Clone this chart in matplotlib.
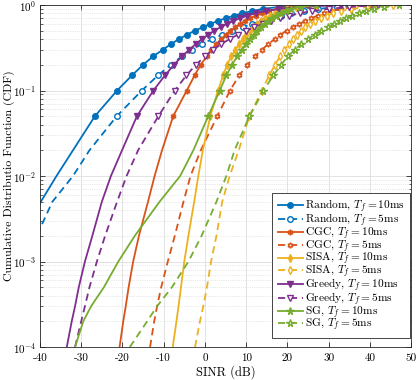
import matplotlib
matplotlib.use('Agg')
import matplotlib.pyplot as plt
from matplotlib.ticker import LogLocator, NullFormatter

plt.rcParams['font.family'] = 'serif'
plt.rcParams['font.serif'] = ['cmr10', 'DejaVu Serif']
plt.rcParams['mathtext.fontset'] = 'cm'
plt.rcParams['axes.formatter.use_mathtext'] = True

# CDF levels at which the SINR values were read (markers from 0.05 upwards)
cdf = [1e-4, 2e-4, 3e-4, 5e-4, 1e-3, 2e-3, 5e-3, 1e-2, 2e-2,
       0.05, 0.10, 0.15, 0.20, 0.25, 0.30, 0.35, 0.40, 0.45, 0.50,
       0.55, 0.60, 0.65, 0.70, 0.75, 0.80, 0.85, 0.90, 0.95, 1.00]
first_marker = 9

# SINR (dB) at each CDF level
random_10 = [-60, -56, -53.5, -50.5, -47, -43.5, -39.8, -36, -32, -26.7, -21.3, -17.7, -15, -12.6,
             -10.2, -8.2, -6.3, -4.3, -2.5, -0.5, 1.3, 3.1, 5, 7, 9, 11.5, 14, 18, 25]
random_5 = [-56, -52, -49.5, -46.5, -43.5, -40.8, -37, -32, -28, -21.4, -15.3, -11.4, -8.3, -5.6,
            -3.1, -0.7, 1.8, 4.2, 6.6, 9.2, 11.5, 13.8, 16, 18.5, 21, 24, 27.5, 32, 40]
cgc_10 = [-20.7, -19.8, -19.2, -18.5, -17.4, -16, -13.8, -12.2, -10.4, -7.7, -4.4, -2.5, -1, 0.4,
          1.6, 2.8, 4, 5, 6.2, 7.3, 8.5, 9.7, 11, 12.3, 13.8, 15.5, 17.5, 20.5, 25]
cgc_5 = [-13.3, -12.3, -11.6, -10.6, -9, -7.3, -5.2, -3.5, -1, 3, 6.1, 8.3, 10.3, 12.1,
         13.8, 15.4, 16.9, 18.3, 19.8, 21.3, 22.8, 24.3, 25.8, 27.4, 29, 30.8, 33, 36, 40]
sisa_10 = [-7.8, -6.9, -6.4, -5.8, -5, -4, -2.6, -1.6, -0.5, 1.3, 3.2, 4.4, 5.4, 6.4,
           7.4, 8.3, 9.2, 10, 10.9, 11.7, 12.7, 13.7, 14.7, 15.8, 17, 18.4, 20, 22.2, 27]
sisa_5 = [-2.4, -1.2, -0.4, 0.5, 1.5, 2.8, 4.2, 6, 8.2, 10.8, 13.8, 15.6, 17, 18.2,
          19.3, 20.4, 21.4, 22.4, 23.4, 24.4, 25.6, 26.8, 28.1, 29.5, 31, 33, 35.5, 39.4, 45.7]
greedy_10 = [-33.5, -32.3, -31.5, -30.6, -29.1, -27.3, -25, -22.8, -20.1, -16.5, -12.5, -9.7, -7.5, -5.6,
             -3.8, -2.2, -0.7, 0.8, 2.3, 3.8, 5.3, 6.9, 8.5, 10.3, 12.3, 14.8, 18, 23, 33]
greedy_5 = [-31.5, -30, -29.1, -28, -26.2, -24.2, -21.3, -19, -16.2, -11.3, -7.3, -4.5, -2.2, 0,
            2, 4, 6, 8, 10, 12, 14, 16, 18.2, 20.5, 23, 26, 30, 35, 42]
sg_10 = [-31.5, -29.5, -27.6, -24.5, -21, -17, -11, -6, -2.8, 0.8, 3.6, 5.2, 6.6, 7.8,
         8.9, 9.9, 10.9, 11.8, 12.7, 13.6, 14.5, 15.4, 16.3, 17.3, 18.4, 19.6, 21, 23, 27]
sg_5 = [-18.2, -14, -11.6, -8, -4, -0.8, 2.8, 5.2, 7.2, 10.8, 14.2, 16.6, 18.5, 20.1,
        21.8, 23.4, 25, 26.6, 28.2, 29.8, 31.3, 32.8, 34.2, 35.7, 37.3, 39, 41, 43.5, 47]

xticks = [-40, -30, -20, -10, 0, 10, 20, 30, 40, 50]

blue = '#0072BD'
orange = '#D95319'
yellow = '#EDB120'
purple = '#7E2F8E'
green = '#77AC30'
hexagram = (6, 1, 0)

series = [
    (random_10, blue, 'o', '-', True, r'Random, $T_f = 10$ms'),
    (random_5, blue, 'o', '--', False, r'Random, $T_f = 5$ms'),
    (cgc_10, orange, hexagram, '-', True, r'CGC, $T_f = 10$ms'),
    (cgc_5, orange, hexagram, '--', False, r'CGC, $T_f = 5$ms'),
    (sisa_10, yellow, 'd', '-', True, r'SISA, $T_f = 10$ms'),
    (sisa_5, yellow, 'd', '--', False, r'SISA, $T_f = 5$ms'),
    (greedy_10, purple, 'v', '-', True, r'Greedy, $T_f = 10$ms'),
    (greedy_5, purple, 'v', '--', False, r'Greedy, $T_f = 5$ms'),
    (sg_10, green, '*', '-', True, r'SG, $T_f = 10$ms'),
    (sg_5, green, '*', '--', False, r'SG, $T_f = 5$ms'),
]

fig = plt.figure(figsize=(4.18, 3.80), dpi=100)
ax = fig.add_axes([0.0957, 0.0868, 0.8876, 0.9])

marks = list(range(first_marker, len(cdf)))
for x, c, m, ls, filled, label in series:
    ms = 5.5 if m == '*' else 4
    ax.plot(x, cdf, color=c, linestyle=ls, linewidth=1.3,
            marker=m, markersize=ms, markevery=marks,
            markerfacecolor=c if filled else 'white',
            markeredgecolor=c, markeredgewidth=1.0,
            dashes=(4, 2.6) if ls == '--' else (None, None),
            label=label)

ax.set_yscale('log')
ax.set_xlim(-40, 50)
ax.set_ylim(1e-4, 1)
ax.set_xticks(xticks)
ax.set_xticklabels([str(t) for t in xticks])
ax.yaxis.set_major_locator(LogLocator(base=10, numticks=10))
ax.yaxis.set_minor_locator(LogLocator(base=10, subs=range(2, 10), numticks=20))
ax.yaxis.set_minor_formatter(NullFormatter())

ax.grid(True, which='major', color='#dedede', linewidth=0.6)
ax.grid(True, which='minor', axis='y', color='#d4d4d4', linewidth=0.5, linestyle=':')
ax.set_axisbelow(True)

ax.tick_params(which='both', direction='in', top=True, right=True,
               labelsize=8, color='#262626', pad=3)
ax.tick_params(axis='x', pad=5)
ax.tick_params(which='major', length=3.5, width=0.6)
ax.tick_params(which='minor', length=1.8, width=0.5)
for s in ax.spines.values():
    s.set_color('#262626')
    s.set_linewidth(0.6)

ax.set_xlabel('SINR (dB)', fontsize=9, labelpad=1)
ax.set_ylabel('Cumulative Distributio Function (CDF)', fontsize=8.6)
ax.yaxis.set_label_coords(-0.068, 0.5)

leg = ax.legend(loc='lower right', bbox_to_anchor=(0.997, 0.025), fontsize=8.2,
                handlelength=2.2, handletextpad=0.2, labelspacing=-0.33,
                borderpad=0.45, borderaxespad=0, fancybox=False, framealpha=1)
leg.get_frame().set_edgecolor('#262626')
leg.get_frame().set_linewidth(0.6)

fig.savefig('out.png', dpi=100)
